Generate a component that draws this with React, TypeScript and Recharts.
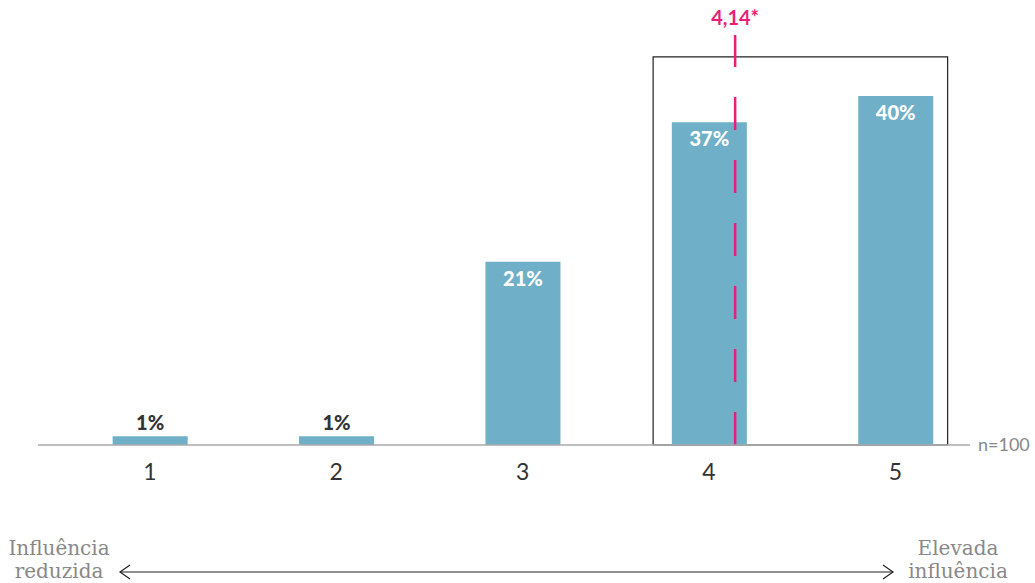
import { BarChart, Bar, XAxis, YAxis, ReferenceLine, ReferenceArea, LabelList } from "recharts";

const scores = [1, 2, 3, 4, 5];
const shares = [1, 1, 21, 37, 40];
const meanScore = 4.14;
const meanLabel = "4,14*";
const sampleLabel = "n=100";

const data = scores.map((s, i) => ({ score: s, share: shares[i] }));

const BAR = "#6fb0c8";
const PINK = "#e91e78";
const FONT = "Lato, 'Noto Sans', sans-serif";
const SERIF = "'DejaVu Serif', serif";

function BarValue(props: any) {
  const { x, y, width, value } = props;
  const small = value < 5;
  return (
    <text
      x={x + width / 2}
      y={small ? y - 6 : y + 24}
      textAnchor="middle"
      fill={small ? "#333" : "#fff"}
      fontFamily={FONT}
      fontWeight={900}
      fontSize={20}
    >
      {`${value}%`}
    </text>
  );
}

export default function App() {
  return (
    <div style={{ position: "absolute", left: 0, top: 0, width: 1035, height: 583, background: "#fff" }}>
      <BarChart width={1035} height={583} data={data} margin={{ top: 35, right: 65, left: 38, bottom: 98 }}>
        <XAxis
          dataKey="score"
          type="number"
          domain={[0.4, 5.4]}
          ticks={scores}
          tickLine={false}
          axisLine={{ stroke: "#aaa", strokeWidth: 1.5 }}
          tick={{ fill: "#333", fontSize: 23, fontFamily: FONT }}
          tickMargin={13}
          height={40}
        />
        <YAxis hide domain={[0, 47]} />
        <ReferenceArea x1={3.7} x2={5.28} y1={0} y2={44.5} fill="none" stroke="#222" strokeWidth={1.2} ifOverflow="visible" />
        <Bar dataKey="share" fill={BAR} barSize={75} isAnimationActive={false}>
          <LabelList dataKey="share" content={BarValue} />
        </Bar>
        <ReferenceLine
          x={meanScore}
          stroke={PINK}
          strokeWidth={2.5}
          strokeDasharray="33 30"
          label={{ value: meanLabel, position: "top", fill: PINK, fontSize: 20, fontFamily: FONT, fontWeight: 700, offset: 10 }}
        />
      </BarChart>
      <div style={{ position: "absolute", left: 978, top: 433, color: "#888", fontSize: 18, fontFamily: FONT }}>{sampleLabel}</div>
      <div style={{ position: "absolute", left: -2, top: 537, width: 122, textAlign: "center", color: "#888", fontSize: 20, lineHeight: "23px", fontFamily: SERIF }}>
        Influência
        <br />
        reduzida
      </div>
      <div style={{ position: "absolute", left: 897, top: 537, width: 122, textAlign: "center", color: "#888", fontSize: 20, lineHeight: "23px", fontFamily: SERIF }}>
        Elevada
        <br />
        influência
      </div>
      <svg style={{ position: "absolute", left: 0, top: 560 }} width={1035} height={24}>
        <line x1={120} y1={12} x2={893} y2={12} stroke="#222" strokeWidth={1.2} />
        <polyline points="130,5 120,12 130,19" fill="none" stroke="#222" strokeWidth={1.2} />
        <polyline points="883,5 893,12 883,19" fill="none" stroke="#222" strokeWidth={1.2} />
      </svg>
    </div>
  );
}
